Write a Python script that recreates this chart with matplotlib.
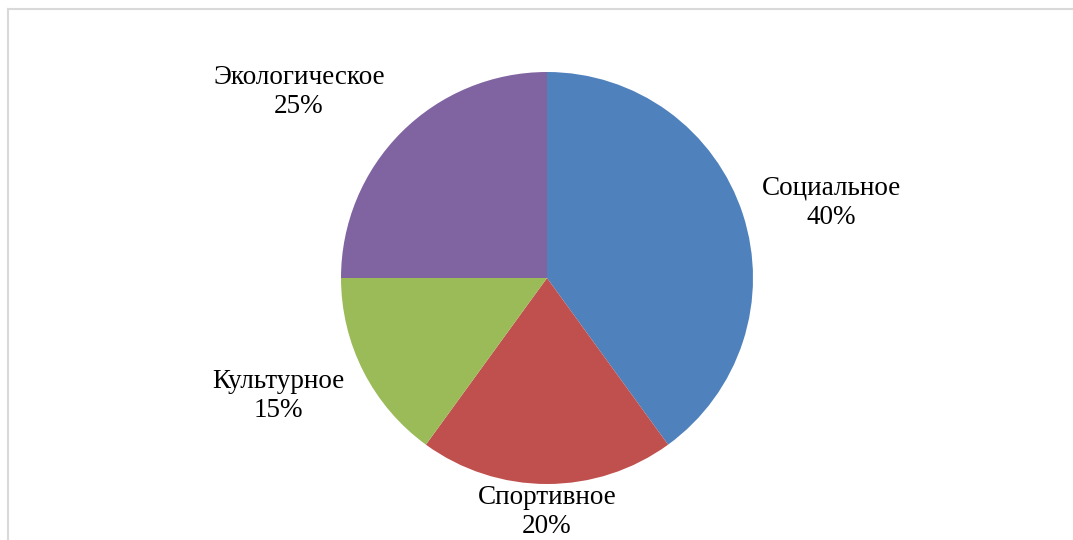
import matplotlib.pyplot as plt
from matplotlib.lines import Line2D

# data
categories = ['Социальное', 'Спортивное', 'Культурное', 'Экологическое']
shares = [40, 20, 15, 25]
colors = ['#4F81BD', '#C0504D', '#9BBB59', '#8064A2']

# label spots (in pie radius units, relative to the centre)
label_pos = [(1.379, 0.364), (0.0, -1.136), (-1.306, -0.573), (-1.204, 0.903)]

plt.rcParams['font.family'] = ['Liberation Serif', 'DejaVu Serif']

W, H = 1073, 540
fig = plt.figure(figsize=(W / 100, H / 100), dpi=100)

# light grey frame round the chart area
fig.add_artist(Line2D([8 / W, 8 / W], [0, 1 - 9 / H], color='#d9d9d9', lw=1.5, transform=fig.transFigure))
fig.add_artist(Line2D([8 / W, 1], [1 - 9 / H, 1 - 9 / H], color='#d9d9d9', lw=1.5, transform=fig.transFigure))

# pie centre at (547, 278) px, radius 206 px
cx, cy, r = 547, 278, 206
ax = fig.add_axes([(cx - r) / W, (H - cy - r) / H, 2 * r / W, 2 * r / H])
ax.pie(shares, colors=colors, startangle=90, counterclock=False,
       wedgeprops=dict(linewidth=0))
ax.set_xlim(-1, 1)
ax.set_ylim(-1, 1)
ax.set_aspect('equal')
ax.axis('off')

for name, val, (x, y) in zip(categories, shares, label_pos):
    ax.text(x, y, f'{name}\n{val}%', ha='center', va='center', fontsize=19.5,
            linespacing=1.25, clip_on=False)

fig.savefig('out.png', dpi=100)
